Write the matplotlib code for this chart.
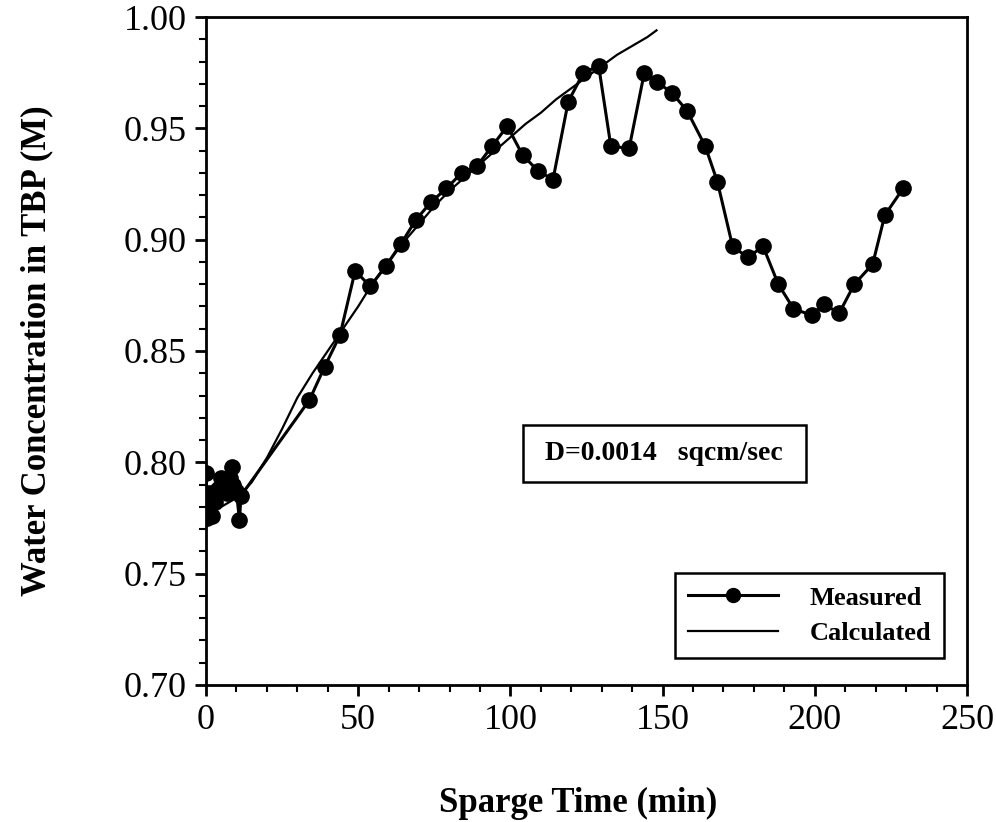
import matplotlib
matplotlib.use("Agg")
import matplotlib.pyplot as plt
from matplotlib.ticker import MultipleLocator, FormatStrFormatter
from matplotlib.patches import Rectangle
from matplotlib.lines import Line2D

plt.rcParams['font.family'] = ['Liberation Serif', 'DejaVu Serif']

# Measured data (sparge time in min, water concentration in M)
meas_t = [0, 0.5, 1, 2, 3, 4, 5, 6, 7, 8, 8.5, 9, 10, 11, 11.5,
          34, 39, 44, 49, 54, 59, 64, 69, 74, 79, 84, 89, 94, 99,
          104, 109, 114, 119, 124, 129, 133, 139, 144, 148, 153, 158,
          164, 168, 173, 178, 183, 188, 193, 199, 203, 208, 213, 219, 223, 229]
meas_c = [0.795, 0.775, 0.786, 0.776, 0.782, 0.788, 0.793, 0.790, 0.786, 0.793, 0.798, 0.790, 0.787, 0.774, 0.785,
          0.828, 0.843, 0.857, 0.886, 0.879, 0.888, 0.898, 0.909, 0.917, 0.923, 0.930, 0.933, 0.942, 0.951,
          0.938, 0.931, 0.927, 0.962, 0.975, 0.978, 0.942, 0.941, 0.975, 0.971, 0.966, 0.958,
          0.942, 0.926, 0.897, 0.892, 0.897, 0.880, 0.869, 0.866, 0.871, 0.867, 0.880, 0.889, 0.911, 0.923]

# Calculated curve
calc_t = [0, 5, 10, 15, 20, 25, 30, 35, 40, 45, 50, 55, 60, 65, 70, 75, 80, 85, 90,
          95, 100, 105, 110, 115, 120, 125, 130, 135, 140, 145, 148]
calc_c = [0.778, 0.780, 0.784, 0.791, 0.802, 0.815, 0.829, 0.840, 0.850, 0.860, 0.870, 0.881, 0.890, 0.899,
          0.907, 0.915, 0.922, 0.928, 0.934, 0.940, 0.946, 0.952, 0.957, 0.963, 0.968, 0.973, 0.978,
          0.983, 0.987, 0.991, 0.994]

annotation = "D=0.0014   sqcm/sec"

fig = plt.figure(figsize=(9.96, 8.22), dpi=100)
ax = fig.add_axes([0.2068, 0.1667, 0.7641, 0.8126])

ax.plot(calc_t, calc_c, color='black', lw=1.6, zorder=2)
ax.plot(meas_t, meas_c, color='black', lw=2.2, marker='o', ms=11, zorder=3)

ax.set_xlim(0, 250)
ax.set_ylim(0.70, 1.00)
ax.xaxis.set_major_locator(MultipleLocator(50))
ax.xaxis.set_minor_locator(MultipleLocator(10))
ax.yaxis.set_major_locator(MultipleLocator(0.05))
ax.yaxis.set_minor_locator(MultipleLocator(0.01))
ax.yaxis.set_major_formatter(FormatStrFormatter('%.2f'))
ax.xaxis.set_major_formatter(FormatStrFormatter('%d'))

for s in ax.spines.values():
    s.set_linewidth(2.0)
ax.tick_params(which='major', direction='out', length=8, width=2, labelsize=26, pad=6)
ax.tick_params(which='minor', direction='out', length=5, width=1.5)

ax.set_xlabel('Sparge Time (min)', fontsize=25, fontweight='bold')
ax.set_ylabel('Water Concentration in TBP (M)', fontsize=25, fontweight='bold')
ax.xaxis.set_label_coords(0.489, -0.153)
ax.yaxis.set_label_coords(-0.200, 0.5)

# Annotation box
ax.add_patch(Rectangle((0.4166, 0.3039), 0.372, 0.0853, transform=ax.transAxes,
                       fill=False, edgecolor='black', lw=1.8, zorder=4))
ax.text(0.602, 0.3458, annotation, transform=ax.transAxes, ha='center', va='center',
        fontsize=20, fontweight='bold', zorder=5)

# Legend
handles = [Line2D([], [], color='black', lw=2.2, marker='o', ms=10),
           Line2D([], [], color='black', lw=1.6)]
leg = ax.legend(handles, ['Measured', 'Calculated'], loc='lower right',
                bbox_to_anchor=(0.970, 0.040), borderaxespad=0,
                prop={'weight': 'bold', 'size': 19},
                frameon=True, fancybox=False, edgecolor='black', framealpha=1,
                handlelength=3.4, handletextpad=1.2, borderpad=0.5, labelspacing=0.45)
leg.get_frame().set_linewidth(1.8)

fig.savefig('out.png', dpi=100)
